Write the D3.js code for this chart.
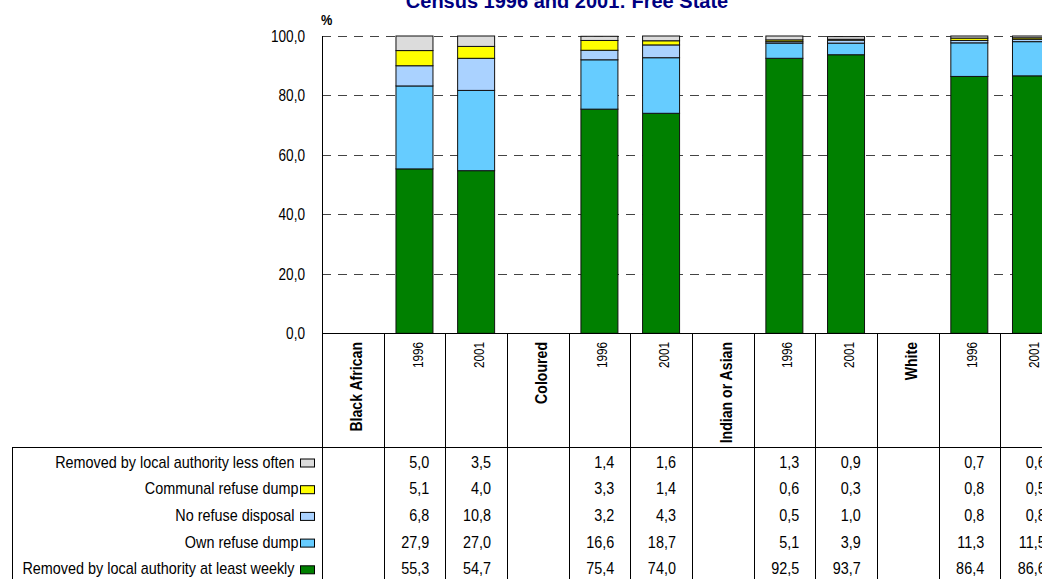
<!DOCTYPE html>
<html>
<head>
<meta charset="utf-8">
<script src="https://cdn.jsdelivr.net/npm/d3@7"></script>
<style>
  html, body { margin: 0; padding: 0; background: #fff; }
  svg { display: block; font-family: Arial, "Liberation Sans", sans-serif; }
</style>
</head>
<body>
<svg id="chart" width="1042" height="579"></svg>
<script>
// ---------- data ----------
const title = "Census 1996 and 2001: Free State";
const columns = ["Black African", "1996", "2001", "Coloured", "1996", "2001",
                 "Indian or Asian", "1996", "2001", "White", "1996", "2001"];
const groupColumns = [0, 3, 6, 9];
const yearColumns = [1, 2, 4, 5, 7, 8, 10, 11];
const yTicks = [0, 20, 40, 60, 80, 100];
const seriesNames = ["Removed by local authority at least weekly", "Own refuse dump",
                     "No refuse disposal", "Communal refuse dump", "Removed by local authority less often"];
const seriesColors = ["#008000", "#66CCFF", "#AAD2FF", "#FFFF00", "#DCDCDC"];
const weekly     = [55.3, 54.7, 75.4, 74.0, 92.5, 93.7, 86.4, 86.6];
const ownDump    = [27.9, 27.0, 16.6, 18.7, 5.1, 3.9, 11.3, 11.5];
const noDisposal = [6.8, 10.8, 3.2, 4.3, 0.5, 1.0, 0.8, 0.8];
const communal   = [5.1, 4.0, 3.3, 1.4, 0.6, 0.3, 0.8, 0.5];
const lessOften  = [5.0, 3.5, 1.4, 1.6, 1.3, 0.9, 0.7, 0.6];
const seriesValues = [weekly, ownDump, noDisposal, communal, lessOften];

// ---------- layout ----------
const svg = d3.select("#chart");
const W = 1042, H = 579;
const plotLeft = 322, colW = 61.65;
const yTop = 36, yBottom = 333.3;
const catBottom = 447;
const rowBase0 = 467.5, rowStep = 26.7;
const fmt = v => d3.format(".1f")(v).replace(".", ",");

const x = d3.scaleBand().domain(d3.range(columns.length))
  .range([plotLeft, plotLeft + colW * columns.length]).paddingInner(0).paddingOuter(0);
const y = d3.scaleLinear().domain([0, 100]).range([yBottom, yTop]).clamp(true);

svg.append("rect").attr("width", W).attr("height", H).attr("fill", "#fff");

// narrow-looking text helper
function label(parent, tx, ty, str, opts) {
  const o = Object.assign({ size: 14, sx: 1, anchor: "start", weight: "normal", rot: 0, dy: null, fill: "#000" }, opts);
  const t = parent.append("text")
    .attr("transform", `translate(${tx},${ty})` + (o.rot ? ` rotate(${o.rot})` : "") + ` scale(${o.sx},1)`)
    .attr("text-anchor", o.anchor).attr("font-size", o.size).attr("font-weight", o.weight)
    .attr("fill", o.fill).style("white-space", "pre").text(str);
  if (o.dy) t.attr("dy", o.dy);
  return t;
}

// title
label(svg, 567, 8, title, { size: 20, weight: "bold", anchor: "middle", fill: "#000080" });

// % label
label(svg, 321, 25, "%", { size: 15, weight: "bold", sx: 0.85 });

// gridlines
svg.append("g").selectAll("line").data(yTicks.filter(d => d > 0)).join("line")
  .attr("x1", plotLeft).attr("x2", W + 30)
  .attr("y1", d => Math.round(y(d)) + 0.5).attr("y2", d => Math.round(y(d)) + 0.5)
  .attr("stroke", "#444").attr("stroke-width", 1).attr("stroke-dasharray", "9,7");

// y tick labels
const gy = svg.append("g");
yTicks.forEach(t => label(gy, 305, y(t), fmt(t), { size: 16, sx: 0.85, anchor: "end", dy: "0.36em" }));

// bars
const stackData = yearColumns.map((c, i) => {
  const o = { col: c };
  seriesNames.forEach((s, k) => o[k] = seriesValues[k][i]);
  return o;
});
const stacked = d3.stack().keys(d3.range(seriesNames.length))(stackData);
const barW = x.bandwidth() * 0.6;
svg.append("g").selectAll("g").data(stacked).join("g")
  .attr("fill", (d, k) => seriesColors[k])
  .selectAll("rect").data(d => d).join("rect")
  .attr("x", d => x(d.data.col) + (x.bandwidth() - barW) / 2)
  .attr("width", barW)
  .attr("y", d => y(d[1]))
  .attr("height", d => Math.max(0, y(d[0]) - y(d[1])))
  .attr("stroke", "#111").attr("stroke-width", 1);

// axes lines
svg.append("line").attr("x1", plotLeft + 0.5).attr("x2", plotLeft + 0.5)
  .attr("y1", yTop).attr("y2", H).attr("stroke", "#000");
svg.append("line").attr("x1", plotLeft).attr("x2", W)
  .attr("y1", Math.round(yBottom) + 0.5).attr("y2", Math.round(yBottom) + 0.5).attr("stroke", "#000");

// column separator lines (category + table area)
svg.append("g").selectAll("line").data(d3.range(1, columns.length + 1)).join("line")
  .attr("x1", d => Math.round(plotLeft + d * colW) + 0.5)
  .attr("x2", d => Math.round(plotLeft + d * colW) + 0.5)
  .attr("y1", yBottom).attr("y2", H).attr("stroke", "#000");

// table horizontal line and left box
svg.append("line").attr("x1", 12).attr("x2", W).attr("y1", catBottom + 0.5).attr("y2", catBottom + 0.5)
  .attr("stroke", "#000");
svg.append("line").attr("x1", 12.5).attr("x2", 12.5).attr("y1", catBottom).attr("y2", H)
  .attr("stroke", "#000");

// category labels (rotated)
const gc = svg.append("g");
columns.forEach((c, i) => {
  const isGroup = groupColumns.includes(i);
  label(gc, x(i) + x.bandwidth() / 2 + 3, 342, c, {
    rot: -90, anchor: "end", dy: "0.36em",
    size: isGroup ? 17 : 14, sx: isGroup ? 0.83 : 0.84,
    weight: isGroup ? "bold" : "normal"
  });
});

// table legend rows (top row = last series)
const rowOrder = d3.range(seriesNames.length).reverse();
const gt = svg.append("g");
rowOrder.forEach((k, r) => {
  const by = rowBase0 + r * rowStep;
  const txt = (k === 1 || k === 3) ? seriesNames[k] : seriesNames[k] + " ";
  label(gt, 298.5, by, txt, { size: 16, sx: 0.9, anchor: "end" });
  gt.append("rect").attr("x", 300.5).attr("y", by - 8.5).attr("width", 14).attr("height", 8)
    .attr("fill", seriesColors[k]).attr("stroke", "#000").attr("stroke-width", 1);
  seriesValues[k].forEach((v, i) => {
    const col = yearColumns[i];
    label(gt, x(col) + x.bandwidth() - 16, by, fmt(v), { size: 16, sx: 0.9, anchor: "end" });
  });
});
</script>
</body>
</html>
